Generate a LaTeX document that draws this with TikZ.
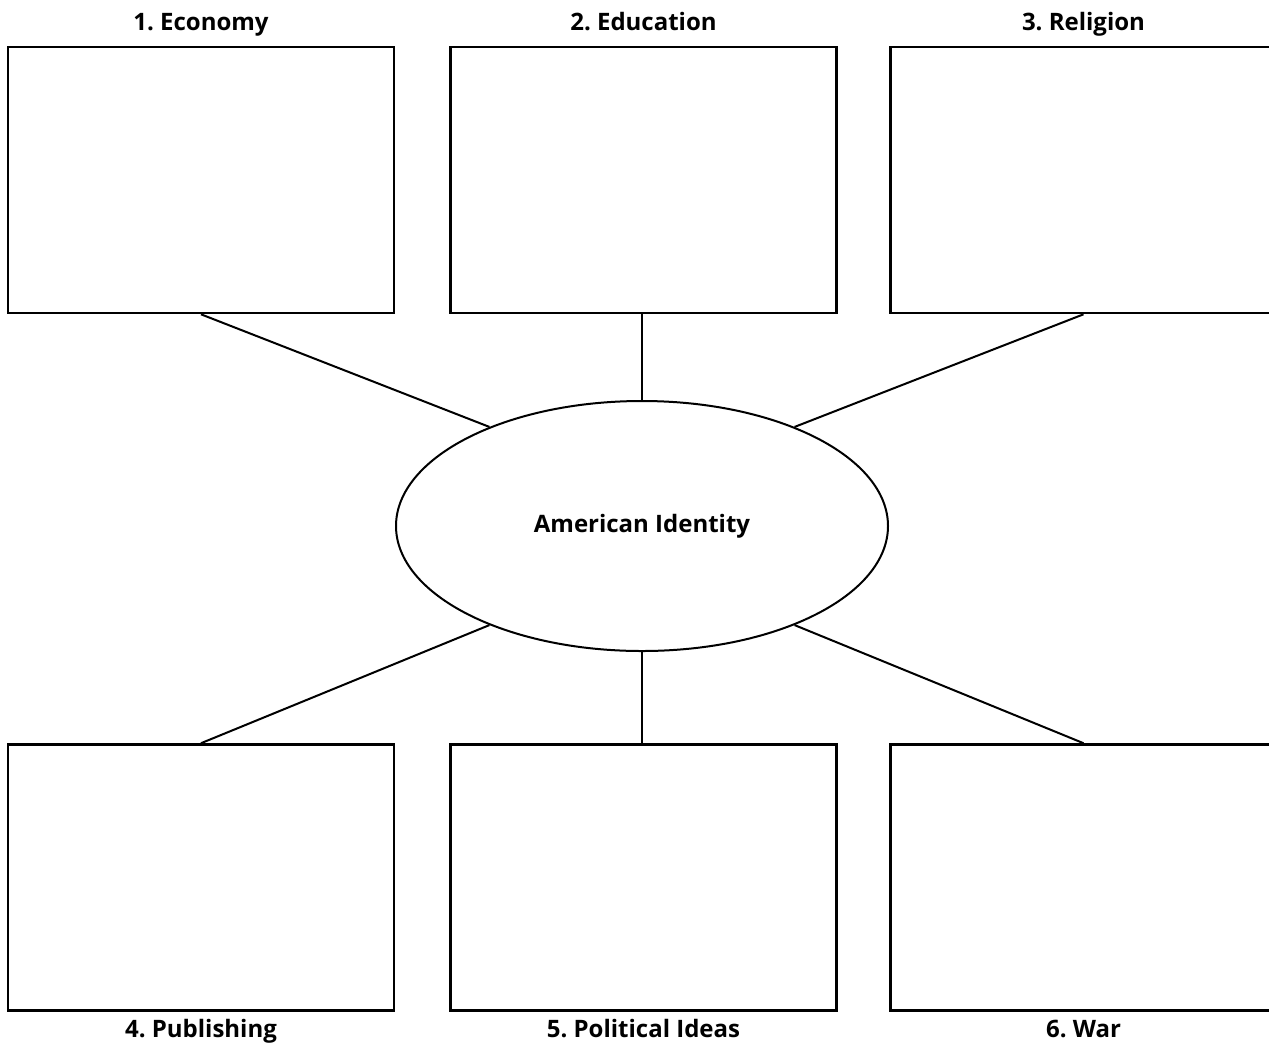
\documentclass[tikz,border=0pt]{standalone}
\usepackage{fontspec}
\setmainfont{Open Sans}
\usetikzlibrary{positioning,shapes.geometric}

\begin{document}
\begin{tikzpicture}[x=0.5pt,y=-0.5pt,
    % Define the style for the topic boxes and the centre
    topic box/.style={rectangle, draw, line width=1.3pt, minimum width=193pt, minimum height=133pt, inner sep=0pt},
    centre/.style={ellipse, draw, line width=1pt, minimum width=246pt, minimum height=125pt, inner sep=0pt, font=\fontsize{12}{14}\selectfont\bfseries},
    heading/.style={font=\fontsize{12}{14}\selectfont\bfseries\frenchspacing, inner sep=0pt, anchor=base},
    % Define the style for the connecting lines
    connection/.style={line width=1pt}
]
\useasboundingbox (0,0) rectangle (1269,1045);
\clip (0,0) rectangle (1269,1045);

% Determine the height of both rows of boxes
\def\rowtop{180}
\def\rowbottom{877.5}

% The centre of the web
\node[centre] (E) at (642,526) {American Identity};

% Top row of boxes with their headings above
\foreach \name/\x/\text in {1/201/1. Economy, 2/643.5/2. Education, 3/1083.5/3. Religion} {
    \node[topic box] (T-\name) at (\x,\rowtop) {};
    \node[heading] (L-\name) at ([yshift=7.5pt]T-\name.north) {\text};
}

% Bottom row of boxes with their headings below
\foreach \name/\x/\text in {4/201/4. Publishing, 5/643.5/5. Political Ideas, 6/1083.5/6. War} {
    \node[topic box] (B-\name) at (\x,\rowbottom) {};
    \node[heading] (L-\name) at ([yshift=-13pt]B-\name.south) {\text};
}

% Connect the boxes to the centre
\foreach \name/\a in {1/147, 3/33}
    \draw[connection] (T-\name.south) -- (E.\a);
\foreach \name/\a in {4/213, 6/327}
    \draw[connection] (B-\name.north) -- (E.\a);
% the middle ones go straight up and down
\draw[connection] (E.north) -- (E.north |- T-2.south);
\draw[connection] (E.south) -- (E.south |- B-5.north);

\end{tikzpicture}
\end{document}
